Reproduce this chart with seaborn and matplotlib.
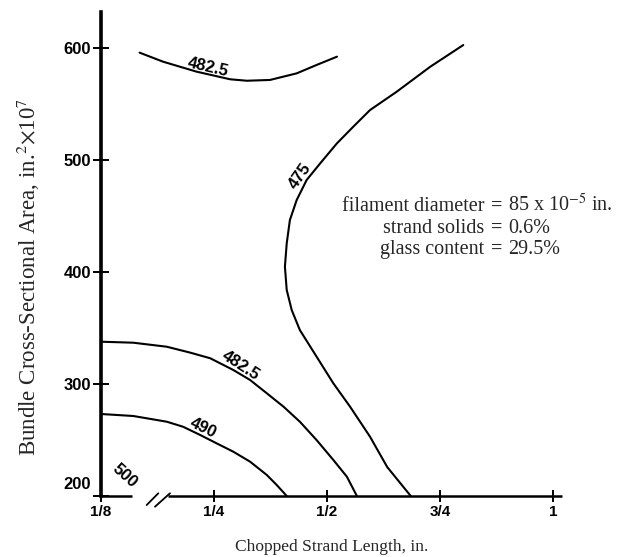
import numpy as np
import pandas as pd
import matplotlib
matplotlib.use("Agg")
import matplotlib.pyplot as plt
import seaborn as sns
from matplotlib.transforms import ScaledTranslation

# ---------------- data (x: chopped strand length, in.; y: bundle area, in.^2 x 10^7)
x_475 = [0.801, 0.728, 0.654, 0.595, 0.558, 0.522, 0.485, 0.455, 0.433, 0.418, 0.411,
         0.407, 0.411, 0.422, 0.440, 0.477, 0.514, 0.551, 0.595, 0.633, 0.685]
y_475 = [603.0, 583.6, 561.3, 544.9, 530.0, 515.2, 497.3, 482.4, 464.5, 446.6, 425.8,
         404.9, 384.1, 366.2, 348.3, 324.5, 300.7, 279.8, 253.0, 225.9, 200.0]

x_4825_top = [0.168, 0.194, 0.231, 0.286, 0.323, 0.374, 0.433, 0.477, 0.522]
y_4825_top = [596.2, 588.1, 579.2, 572.4, 571.1, 571.8, 577.7, 585.2, 592.6]

x_4825_low = [0.125, 0.161, 0.198, 0.224, 0.246, 0.293, 0.330, 0.367, 0.404, 0.440,
              0.477, 0.514, 0.544, 0.566]
y_4825_low = [337.9, 337.0, 333.4, 328.1, 323.1, 312.6, 303.7, 291.8, 279.8, 266.4,
              250.0, 232.2, 217.2, 200.0]

x_490 = [0.125, 0.161, 0.198, 0.216, 0.235, 0.256, 0.293, 0.330, 0.367, 0.389, 0.411]
y_490 = [273.3, 271.5, 266.4, 261.9, 254.5, 247.1, 239.6, 230.7, 218.8, 209.8, 200.0]

curve_names = ["475", "482.5 (upper)", "482.5 (lower)", "490"]
curve_x = [x_475, x_4825_top, x_4825_low, x_490]
curve_y = [y_475, y_4825_top, y_4825_low, y_490]

# contour labels: text, x, y
label_texts = ["475", "482.5", "482.5", "490", "500"]
label_x = [0.455, 0.242, 0.301, 0.234, 0.152]
label_y = [482.4, 576.7, 311.2, 255.0, 217.9]

x_ticks = [0.125, 0.25, 0.5, 0.75, 1.0]
x_tick_labels = ["1/8", "1/4", "1/2", "3/4", "1"]
y_ticks = [200, 300, 400, 500, 600]
y_tick_labels = ["200", "300", "400", "500", "600"]

note_left = ["filament diameter", "strand solids", "glass content"]
note_right = [r"85 x 10$^{-5}$ in.", "0.6%", "29.5%"]

# ---------------- build long-form table
rows = []
for name, xs, ys in zip(curve_names, curve_x, curve_y):
    for i, (xv, yv) in enumerate(zip(xs, ys)):
        rows.append({"curve": name, "order": i, "length": xv, "area": yv})
df = pd.DataFrame(rows)

# ---------------- style
sns.set_style("ticks")
plt.rcParams["font.family"] = ["Liberation Sans", "DejaVu Sans"]
plt.rcParams["mathtext.fontset"] = "stix"

fig = plt.figure(figsize=(6.36, 5.57), dpi=100)
ax = fig.add_axes([0.1583, 0.1095, 0.7249, 0.8695])


def fwd(x):
    x = np.asarray(x, dtype=float)
    return np.where(x < 0.25, 8 * x - 1, 4 * x)


def inv(p):
    p = np.asarray(p, dtype=float)
    return np.where(p < 1, (p + 1) / 8, p / 4)


ax.set_xscale("function", functions=(fwd, inv))

sns.lineplot(data=df, x="length", y="area", units="curve", estimator=None,
             sort=False, color="black", linewidth=1.5, ax=ax, legend=False)

ax.set_xlim(0.125, 1.0185)
ax.set_ylim(200, 632.8)

# contour labels
label_rot = [55, -13, -33, -26, -42]
label_va = ["bottom", "bottom", "bottom", "bottom", "center"]
for t, xv, yv, r, va in zip(label_texts, label_x, label_y, label_rot, label_va):
    ax.text(xv, yv, t, rotation=r, rotation_mode="anchor", ha="center", va=va,
            fontsize=12, fontweight="bold", color="black")

# spines
for s in ["top", "right", "bottom"]:
    ax.spines[s].set_visible(False)
ax.spines["left"].set_linewidth(2.6)
ax.spines["left"].set_color("black")

# broken bottom axis drawn in axes fraction
bt = ax.transAxes
ax.plot([0, 0.067], [0, 0], transform=bt, color="black", lw=1.8, clip_on=False,
        solid_capstyle="butt")
ax.plot([0.145, 1.0], [0, 0], transform=bt, color="black", lw=1.8, clip_on=False,
        solid_capstyle="butt")
ax.plot([0.0998, 0.125], [-0.0186, 0.0056], transform=bt, color="black", lw=1.3,
        clip_on=False)
ax.plot([0.1178, 0.1503], [-0.0221, 0.0056], transform=bt, color="black", lw=1.3,
        clip_on=False)

# ticks
ax.set_xticks(x_ticks)
ax.set_xticklabels(x_tick_labels)
ax.set_yticks(y_ticks)
ax.set_yticklabels(y_tick_labels)
ax.tick_params(axis="x", direction="inout", length=9, width=1.4, pad=2,
               labelsize=11, colors="black")
ax.tick_params(axis="y", direction="inout", length=12, width=1.4, pad=1,
               labelsize=12, colors="black")
for lab in ax.get_xticklabels() + ax.get_yticklabels():
    lab.set_fontweight("bold")
lab200 = ax.get_yticklabels()[0]
lab200.set_transform(lab200.get_transform() +
                     ScaledTranslation(0, 13 / 100, fig.dpi_scale_trans))

# axis labels
ax.set_xlabel("Chopped Strand Length, in.", family="Liberation Serif", fontsize=12.5)
ax.set_ylabel(r"Bundle Cross-Sectional Area, in.$^2$$\times$10$^7$",
              family="Liberation Serif", fontsize=16.5)
ax.yaxis.set_label_coords(-0.128, 0.452)
ax.xaxis.set_label_coords(0.5, -0.088)

# note text
note_y = [0.5885, 0.543, 0.4997]
for l, r, yy in zip(note_left, note_right, note_y):
    ax.text(0.8315, yy, l, transform=ax.transAxes, ha="right", va="baseline",
            family="Liberation Serif", fontsize=14.5)
    ax.text(0.8598, yy, "=", transform=ax.transAxes, ha="center", va="baseline",
            family="Liberation Serif", fontsize=14.5, fontweight="bold")
    ax.text(0.8835, yy, r, transform=ax.transAxes, ha="left", va="baseline",
            family="Liberation Serif", fontsize=14.5)

fig.savefig("out.png", dpi=100)
